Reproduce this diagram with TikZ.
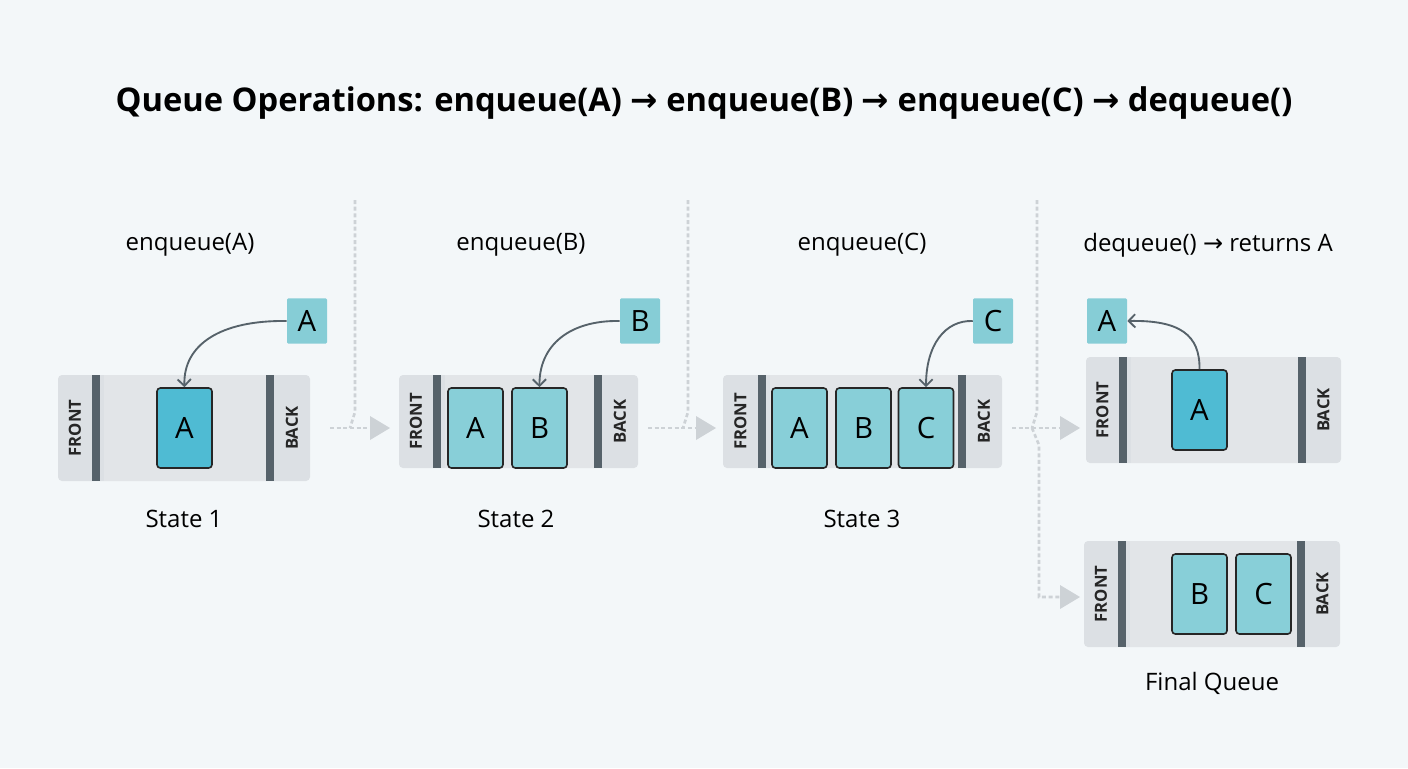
\documentclass[tikz,border=0pt]{standalone}
\usepackage{fontspec}
\setmainfont{Open Sans}
\newfontfamily\arrf{DejaVu Sans}
\newcommand{\rar}{{\arrf →}}
\usetikzlibrary{arrows.meta}
\definecolor{bg}{HTML}{F3F7F9}
\definecolor{cont}{HTML}{DCE0E4}
\definecolor{inner}{HTML}{E2E5E8}
\definecolor{bar}{HTML}{56626A}
\definecolor{cardD}{HTML}{4FBBD3}
\definecolor{cardL}{HTML}{88CFD8}
\definecolor{sm}{HTML}{86CDD6}
\definecolor{dash}{HTML}{CDD2D6}
\definecolor{arr}{HTML}{56626A}
\tikzset{
 x=0.75pt,y=-0.75pt,
 cont/.style={fill=cont,rounded corners=3pt},
 bar/.style={fill=bar},
 card/.style={draw=black!85,line width=1.2pt,rounded corners=2.5pt,minimum width=41.25pt,minimum height=60pt,font=\fontsize{22}{22}\selectfont,inner sep=0pt},
 cd/.style={card,fill=cardD},
 cl/.style={card,fill=cardL},
 small/.style={fill=sm,minimum width=30pt,minimum height=34pt,font=\fontsize{22}{22}\selectfont,inner sep=0pt,rounded corners=1pt},
 side/.style={rotate=90,font=\fontsize{12.5}{12.5}\selectfont\bfseries\color{black!85}},
 lbl/.style={font=\fontsize{18}{18}\selectfont},
 mv/.style={draw=arr,line width=1.4pt,-{Straight Barb[length=5pt,width=10pt]}},
 dl/.style={draw=dash,line width=2pt,dash pattern=on 3pt off 2pt},
 tri/.style={fill=dash,draw=none},
}
\begin{document}
\begin{tikzpicture}
\fill[bg] (0,0) rectangle (1408,768);
\useasboundingbox (0,0) rectangle (1408,768);
\node[font=\fontsize{24.5}{24.5}\selectfont\bfseries] (title) at (704,103) {Queue Operations: enqueue(A) \rar{} enqueue(B) \rar{} enqueue(C) \rar{} dequeue()};
% separators
\draw[dl] (355,200) -- (355,412) -- (350,428);
\draw[dl] (688,200) -- (688,412) -- (683,428);
\draw[dl] (1037,200) -- (1037,412) -- (1032,428);
\draw[dl] (330,428) -- (368,428);
\draw[dl] (648,428) -- (700,428);
\draw[dl] (1012,428) -- (1062,428);
\draw[dl] (1032,428) -- (1039,445) -- (1039,597) -- (1062,597);
\fill[tri] (370,416)--(390,428)--(370,440)--cycle;
\fill[tri] (696,416)--(716,428)--(696,440)--cycle;
\fill[tri] (1060,416)--(1080,428)--(1060,440)--cycle;
\fill[tri] (1060,585)--(1080,597)--(1060,609)--cycle;
\foreach \xa/\ya/\xb/\yb/\fb/\bb in {58/375/310/481/96/270, 399/375/638/468/437/598, 723/375/1002/468/762/962, 1086/357/1341/463/1123/1302, 1084/541/1340/647/1122/1301}{
  \fill[cont] (\xa,\ya) rectangle (\xb,\yb);
  \fill[inner] (\fb+8,\ya) rectangle (\bb-4,\yb);
  \fill[bar] (\fb-4,\ya) rectangle (\fb+4,\yb);
  \fill[bar] (\bb-4,\ya) rectangle (\bb+4,\yb);
  \node[side] at ({(\xa+\fb-4)/2},{(\ya+\yb)/2}) {FRONT};
  \node[side] at ({(\xb+\bb+4)/2},{(\ya+\yb)/2}) {BACK};
}
\node[cd] (a1) at (184.5,428) {A};
\node[cl] (a2) at (475.5,428) {A};
\node[cl] (b2) at (539.5,428) {B};
\node[cl] (a3) at (799.5,428) {A};
\node[cl] (b3) at (863.5,428) {B};
\node[cl] (c3) at (926,428) {C};
\node[cd] (a4) at (1199.5,410) {A};
\node[cl] (b5) at (1199.5,594) {B};
\node[cl] (c5) at (1263.5,594) {C};
\node[small] (sa) at (307,321) {A};
\node[small] (sb) at (640,321) {B};
\node[small] (sc) at (993,321) {C};
\node[small] (sd) at (1107,321) {A};
\draw[mv] (sa.west) .. controls (220,320) and (183,345) .. (a1.north);
\draw[mv] (sb.west) .. controls (570,320) and (539,345) .. (b2.north);
\draw[mv] (sc.west) .. controls (945,320) and (926,345) .. (c3.north);
\draw[mv] (a4.north) .. controls (1200,335) and (1180,320) .. (sd.east);
\node[lbl] (l1) at (190,245) {enqueue(A)};
\node[lbl] (l2) at (521,245) {enqueue(B)};
\node[lbl] (l3) at (862,245) {enqueue(C)};
\node[lbl] (l4) at (1208,245) {dequeue() \rar{} returns A};
\node[lbl] (s1) at (184,519) {State 1};
\node[lbl] (s2) at (516,519) {State 2};
\node[lbl] (s3) at (862,519) {State 3};
\node[lbl] (s5) at (1212,683) {Final Queue};
\end{tikzpicture}
\end{document}
